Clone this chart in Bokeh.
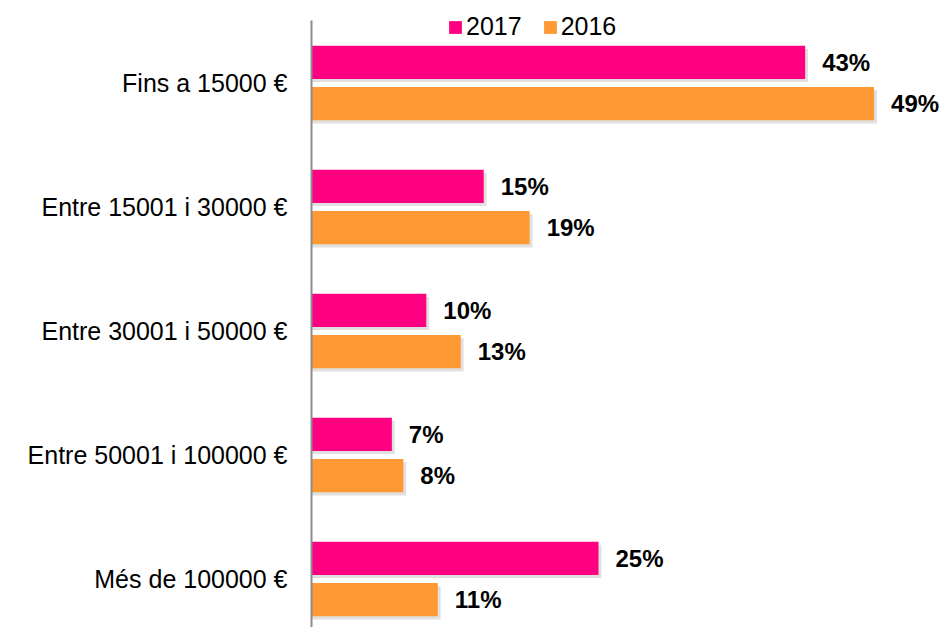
from bokeh.plotting import figure
from bokeh.models import ColumnDataSource, Range1d, FixedTicker, Legend, LegendItem
from bokeh.transform import dodge
from bokeh.core.properties import value
from bokeh.embed import file_html
from bokeh.resources import INLINE

categories = ["Fins a 15000 €", "Entre 15001 i 30000 €", "Entre 30001 i 50000 €",
              "Entre 50001 i 100000 €", "Més de 100000 €"]
values_2017 = [43, 15, 10, 7, 25]
values_2016 = [49, 19, 13, 8, 11]
series_names = ["2017", "2016"]

C2017 = "#FF0080"
C2016 = "#FF9933"
FONT = "Liberation Sans"

pos = list(range(len(categories)))
src = ColumnDataSource(dict(
    y=pos, v17=values_2017, v16=values_2016,
    l17=[f"{v}%" for v in values_2017], l16=[f"{v}%" for v in values_2016],
    s17=[v + 0.25 for v in values_2017], s16=[v + 0.25 for v in values_2016],
))

p = figure(width=939, height=627, output_backend="svg", toolbar_location=None,
           x_axis_type=None, x_range=Range1d(0, 54.7), y_range=Range1d(4.391, -0.665),
           min_border_left=311, min_border_right=0, min_border_top=0, min_border_bottom=0)
p.outline_line_color = None
p.xgrid.visible = False
p.ygrid.visible = False

off = 0.167
h = 0.268
# soft shadows
p.hbar(y=dodge("y", -off + 0.025, range=p.y_range), left=0, right="s17", height=h, source=src,
       fill_color="#000000", fill_alpha=0.12, line_color=None)
p.hbar(y=dodge("y", off + 0.025, range=p.y_range), left=0, right="s16", height=h, source=src,
       fill_color="#000000", fill_alpha=0.12, line_color=None)

r17 = p.hbar(y=dodge("y", -off, range=p.y_range), left=0, right="v17", height=h, source=src,
             fill_color=C2017, line_color=None)
r16 = p.hbar(y=dodge("y", off, range=p.y_range), left=0, right="v16", height=h, source=src,
             fill_color=C2016, line_color=None)

for col, lab, d in (("v17", "l17", -off), ("v16", "l16", off)):
    p.text(x=col, y=dodge("y", d, range=p.y_range), text=lab, source=src, x_offset=17,
           text_font=value(FONT), text_font_style="bold", text_font_size="24px",
           text_baseline="middle", text_align="left", text_color="#000000")

ax = p.yaxis[0]
ax.ticker = FixedTicker(ticks=pos)
ax.bounds = (-0.504, 4.391)
ax.major_label_overrides = {i: c for i, c in zip(pos, categories)}
ax.major_tick_out = 0
ax.major_tick_in = 0
ax.minor_tick_out = 0
ax.minor_tick_in = 0
ax.axis_line_color = "#8C8C8C"
ax.axis_line_width = 2
ax.major_label_standoff = 24
ax.major_label_text_font = FONT
ax.major_label_text_font_size = "25px"
ax.major_label_text_color = "#000000"

legend = Legend(items=[LegendItem(label=series_names[0], renderers=[r17]),
                       LegendItem(label=series_names[1], renderers=[r16])],
                orientation="horizontal", location=(136, 586))
legend.glyph_width = 16
legend.glyph_height = 16
legend.label_standoff = 3
legend.spacing = 20
legend.padding = 0
legend.margin = 0
legend.border_line_color = None
legend.background_fill_alpha = 0
legend.label_text_font = FONT
legend.label_text_font_size = "25px"
legend.label_text_color = "#000000"
p.add_layout(legend)

open("out.html", "w").write(file_html(p, INLINE))
